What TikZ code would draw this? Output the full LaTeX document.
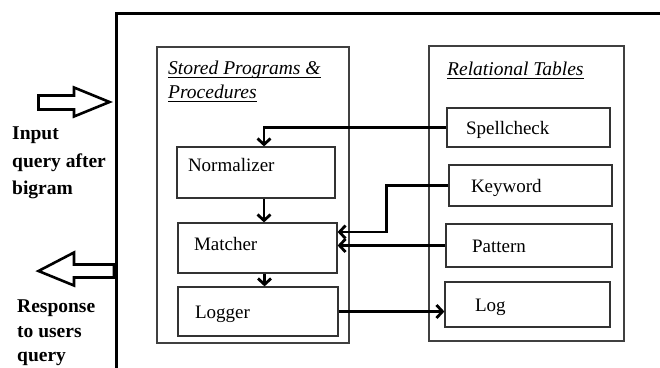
\documentclass[tikz,border=0pt]{standalone}
\usepackage{fontspec}
\setmainfont{Liberation Serif}
\usetikzlibrary{arrows.meta}

\newcommand{\ulin}[1]{\leavevmode\setbox0\hbox{#1}\rlap{\rule[-3pt]{\wd0}{0.9pt}}\box0}

\begin{document}
\begin{tikzpicture}[x=1pt, y=-1pt, >={Straight Barb[length=6pt,width=13pt]},
        every node/.style={font=\fontsize{19}{24}\selectfont},
        panel/.style={draw=black!75, line width=1.1pt},
        box/.style={draw=black!80, line width=1.2pt, inner xsep=0pt, align=left, text height=13pt, text depth=0pt},
        title/.style={inner sep=0pt, align=left, font=\fontsize{19.5}{24}\selectfont\itshape},
        side/.style={inner sep=0pt, align=left, font=\fontsize{19.5}{#1}\selectfont\bfseries},
        flow/.style={->, line width=2.8pt},
        bigarrow/.style={draw, line width=2.6pt, line join=miter}]
    \useasboundingbox (0,0) rectangle (660,367);
    \clip (0,0) rectangle (660,367);

    % system border
    \draw[line width=3pt] (116,380) |- (680,13);

    % input / output
    \draw[bigarrow] (38.5,95.5) -- (74,95.5) -- (74,87.5) -- (109.5,102) -- (74,116.5) -- (74,109.5) -- (38.5,109.5) -- cycle;
    \draw[bigarrow] (114,264.5) -- (74,264.5) -- (74,252.5) -- (38.5,271) -- (74,285.5) -- (74,277.5) -- (114,277.5) -- cycle;
    \node[side=27.5, anchor=north west] (inlbl) at (12,127) {Input\\query after\\bigram};
    \node[side=24.5, anchor=north west] (outlbl) at (17,300) {Response\\to users\\query};

    % containers
    \node[panel, minimum width=192pt, minimum height=296pt] (sp) at (253,195) {};
    \node[panel, minimum width=195pt, minimum height=295pt] (rt) at (526.5,193.5) {};
    \node[title, anchor=north west] (sptitle) at (168,61) {\ulin{Stored Programs \&}\\\ulin{Procedures}};
    \node[title, anchor=north west] (rttitle) at (447,62) {\ulin{Relational Tables}};

    % stored programs
    \node[box, text width=158pt, minimum height=51pt, text depth=16pt] (nrm) at (256,172.5) {\hspace*{11pt}Normalizer};
    \node[box, text width=159pt, minimum height=50pt, text depth=9pt]  (mat) at (257.5,248)  {\hspace*{16pt}Matcher};
    \node[box, text width=160pt, minimum height=49pt]                  (lgr) at (258,311.5)  {\hspace*{17pt}Logger};

    % relational tables
    \node[box, text width=163pt, minimum height=39pt] (spl) at (528.5,127.5) {\hspace*{19pt}Spellcheck};
    \node[box, text width=163pt, minimum height=41pt] (kwd) at (530.5,185.5) {\hspace*{22pt}Keyword};
    \node[box, text width=166pt, minimum height=43pt] (pat) at (529,245.5)   {\hspace*{26pt}Pattern};
    \node[box, text width=165pt, minimum height=45pt] (log) at (527.5,304.5) {\hspace*{30pt}Log};

    \draw[flow] (spl.west) -| ([xshift=8pt]nrm.north);
    \draw[flow] ([xshift=8pt]nrm.south) -- ([xshift=8pt]nrm.south |- mat.north);
    \draw[flow] ([xshift=7pt]mat.south) -- ([xshift=7pt]mat.south |- lgr.north);
    \draw[flow] (kwd.west) -- ++(-62,0) |- ([yshift=16pt]mat.east);
    \draw[flow] (pat.west) -- (pat.west -| mat.east);
    \draw[flow] (lgr.east) -- (lgr.east -| log.west);
\end{tikzpicture}
\end{document}
